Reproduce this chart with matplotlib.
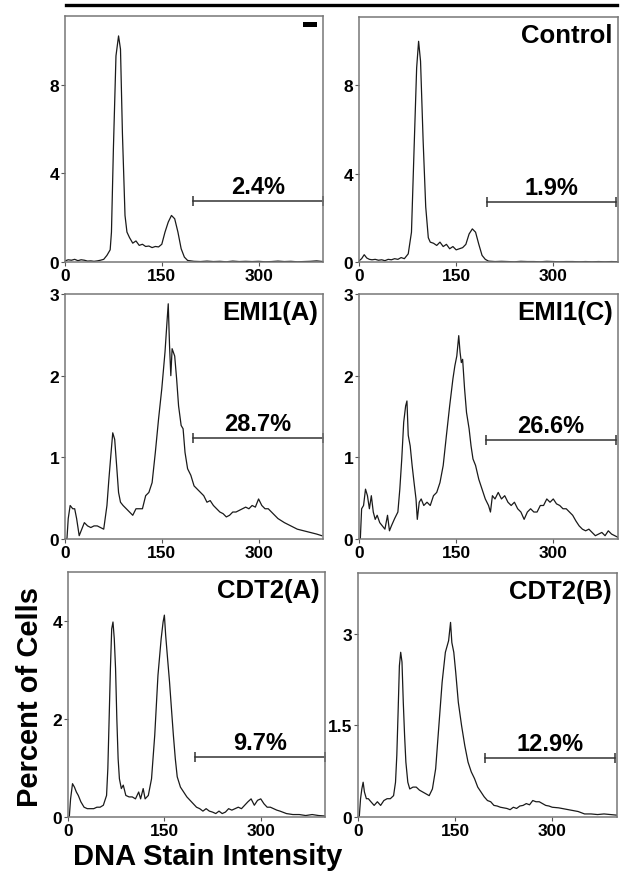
"""DNA content histograms for control, EMI1 and CDT2 knockdowns."""
import matplotlib
matplotlib.use("Agg")
import matplotlib.pyplot as plt
from matplotlib.patches import Rectangle
from matplotlib.lines import Line2D

plt.rcParams["font.family"] = ["Liberation Sans", "DejaVu Sans"]
plt.rcParams["font.weight"] = "bold"

# ---- histogram readings (x = DNA stain intensity, y = percent of cells) ----
control_left_x = [0, 5, 10, 15, 20, 25, 30, 35, 40, 45, 50, 55, 60, 65, 70, 72, 75, 79, 83, 86,
                  89, 93, 96, 100, 105, 110, 115, 120, 125, 130, 135, 140, 145, 150, 155, 160,
                  165, 170, 175, 180, 185, 190, 200, 210, 220, 230, 240, 250, 260, 270, 280,
                  290, 300, 310, 320, 330, 340, 350, 360, 370, 380, 390, 400]
control_left_y = [0.05, 0.1, 0.08, 0.12, 0.06, 0.1, 0.08, 0.04, 0.05, 0.03, 0.05, 0.08, 0.12,
                  0.3, 0.55, 1.35, 5.1, 9.3, 10.2, 9.6, 5.8, 2.1, 1.35, 1.1, 0.85, 0.95, 0.75,
                  0.8, 0.7, 0.72, 0.65, 0.7, 0.68, 0.8, 1.35, 1.8, 2.1, 1.95, 1.35, 0.6, 0.22,
                  0.07, 0.03, 0.02, 0.04, 0.02, 0.03, 0.01, 0.04, 0.02, 0.03, 0.02, 0.03, 0.01,
                  0.02, 0.04, 0.02, 0.03, 0.01, 0.02, 0.03, 0.05, 0.02]

control_right_x = [0, 4, 8, 12, 16, 20, 25, 30, 35, 40, 45, 50, 55, 60, 65, 70, 76, 81, 85, 89,
                   92, 95, 99, 103, 107, 110, 115, 120, 125, 130, 135, 140, 145, 150, 155, 160,
                   165, 170, 175, 180, 185, 190, 195, 200, 210, 220, 230, 240, 250, 260, 270,
                   280, 290, 300, 310, 320, 330, 340, 350, 360, 370, 380, 390, 400]
control_right_y = [0.05, 0.15, 0.33, 0.18, 0.12, 0.1, 0.12, 0.08, 0.1, 0.06, 0.12, 0.1, 0.15,
                   0.12, 0.2, 0.15, 0.37, 1.35, 5.1, 8.8, 10.0, 9.1, 5.5, 2.5, 1.1, 0.9, 0.85,
                   0.75, 0.9, 0.7, 0.8, 0.6, 0.7, 0.55, 0.6, 0.65, 0.8, 1.27, 1.5, 1.35, 0.8,
                   0.3, 0.12, 0.04, 0.02, 0.03, 0.02, 0.01, 0.03, 0.02, 0.02, 0.01, 0.03, 0.02,
                   0.01, 0.02, 0.02, 0.01, 0.02, 0.01, 0.02, 0.01, 0.02, 0.01]

emi1a_x = [0, 3, 5, 8, 12, 15, 18, 22, 25, 30, 35, 40, 45, 50, 55, 60, 65, 68, 71, 74, 77, 80,
           83, 86, 90, 95, 100, 105, 110, 115, 120, 125, 130, 135, 140, 145, 150, 155, 158,
           160, 162, 164, 166, 170, 173, 176, 180, 183, 186, 190, 195, 200, 205, 210, 215, 220,
           225, 230, 235, 240, 245, 250, 255, 260, 265, 270, 275, 280, 285, 290, 295, 300,
           305, 310, 315, 320, 325, 330, 340, 350, 360, 370, 380, 390, 398]
emi1a_y = [0.0, 0.0, 0.25, 0.41, 0.37, 0.37, 0.25, 0.04, 0.1, 0.2, 0.16, 0.14, 0.16, 0.16,
           0.14, 0.12, 0.41, 0.73, 1.02, 1.3, 1.22, 0.9, 0.57, 0.45, 0.41, 0.37, 0.33, 0.29,
           0.37, 0.37, 0.37, 0.53, 0.57, 0.69, 1.06, 1.47, 1.84, 2.29, 2.65, 2.88, 2.37, 2.0,
           2.33, 2.24, 1.96, 1.63, 1.39, 1.35, 1.06, 0.86, 0.78, 0.65, 0.61, 0.57, 0.53, 0.45,
           0.47, 0.41, 0.37, 0.33, 0.31, 0.27, 0.29, 0.33, 0.33, 0.35, 0.37, 0.39, 0.37, 0.41,
           0.39, 0.49, 0.41, 0.37, 0.37, 0.33, 0.29, 0.25, 0.2, 0.16, 0.12, 0.1, 0.08, 0.06,
           0.04]

emi1c_x = [0, 2, 4, 7, 10, 13, 16, 19, 22, 25, 28, 32, 36, 40, 44, 47, 50, 55, 60, 63, 66, 69,
           72, 74, 76, 79, 82, 85, 88, 90, 93, 96, 100, 105, 110, 115, 120, 125, 130, 135,
           140, 145, 148, 151, 154, 156, 158, 160, 163, 166, 170, 173, 176, 180, 185, 190,
           195, 200, 203, 206, 210, 215, 220, 225, 230, 235, 240, 245, 250, 255, 260, 265,
           270, 275, 280, 285, 290, 295, 300, 305, 310, 315, 320, 325, 330, 335, 340, 345,
           350, 355, 360, 365, 370, 375, 380, 385, 390, 395, 400]
emi1c_y = [0.0, 0.0, 0.37, 0.41, 0.61, 0.53, 0.37, 0.53, 0.33, 0.24, 0.29, 0.2, 0.16, 0.12,
           0.29, 0.1, 0.16, 0.25, 0.33, 0.61, 0.98, 1.43, 1.63, 1.69, 1.27, 1.14, 0.9, 0.69,
           0.49, 0.24, 0.45, 0.49, 0.41, 0.45, 0.41, 0.53, 0.57, 0.69, 0.9, 1.27, 1.63, 1.96,
           2.12, 2.24, 2.49, 2.29, 2.16, 2.2, 1.84, 1.55, 1.35, 1.14, 0.98, 0.9, 0.73, 0.61,
           0.49, 0.41, 0.33, 0.53, 0.49, 0.57, 0.49, 0.53, 0.45, 0.41, 0.45, 0.37, 0.33, 0.24,
           0.33, 0.37, 0.33, 0.33, 0.41, 0.41, 0.49, 0.45, 0.49, 0.43, 0.41, 0.37, 0.37, 0.33,
           0.29, 0.22, 0.16, 0.12, 0.1, 0.12, 0.08, 0.04, 0.06, 0.08, 0.04, 0.1, 0.06, 0.04,
           0.02]

cdt2a_x = [0, 2, 4, 7, 10, 13, 16, 20, 25, 30, 35, 40, 45, 50, 55, 60, 62, 64, 66, 68, 70,
           72, 74, 76, 78, 80, 83, 86, 90, 95, 100, 105, 110, 113, 117, 120, 125, 130, 135,
           140, 145, 148, 150, 152, 155, 158, 161, 164, 167, 170, 175, 180, 185, 190, 195,
           200, 205, 210, 215, 220, 225, 230, 235, 240, 245, 250, 255, 260, 265, 270, 275,
           280, 285, 290, 295, 300, 305, 310, 315, 320, 325, 330, 340, 350, 360, 370, 380,
           390, 400]
cdt2a_y = [0.0, 0.0, 0.37, 0.68, 0.61, 0.51, 0.44, 0.31, 0.2, 0.17, 0.17, 0.17, 0.2, 0.2,
           0.24, 0.44, 0.99, 2.0, 3.03, 3.84, 3.98, 3.64, 3.03, 2.0, 1.19, 0.78, 0.58, 0.65,
           0.44, 0.41, 0.41, 0.37, 0.51, 0.37, 0.58, 0.37, 0.44, 0.78, 1.67, 2.89, 3.64, 3.98,
           4.12, 3.71, 3.23, 2.76, 2.21, 1.67, 1.19, 0.82, 0.61, 0.51, 0.41, 0.34, 0.27, 0.2,
           0.17, 0.12, 0.17, 0.12, 0.1, 0.07, 0.12, 0.07, 0.1, 0.17, 0.14, 0.17, 0.2, 0.17,
           0.24, 0.31, 0.37, 0.24, 0.34, 0.37, 0.27, 0.2, 0.2, 0.17, 0.14, 0.12, 0.07, 0.05,
           0.05, 0.03, 0.05, 0.03, 0.02]

cdt2b_x = [0, 2, 4, 6, 8, 10, 13, 16, 20, 25, 30, 35, 40, 45, 50, 55, 58, 60, 62, 64, 66,
           68, 70, 72, 74, 77, 80, 85, 90, 95, 100, 105, 110, 115, 120, 125, 130, 135, 140,
           143, 145, 148, 151, 155, 160, 165, 170, 175, 180, 185, 190, 195, 200, 205, 210,
           215, 220, 225, 230, 235, 240, 245, 250, 255, 260, 265, 270, 275, 280, 285, 290,
           295, 300, 310, 320, 330, 340, 350, 360, 370, 380, 390, 400]
cdt2b_y = [0.0, 0.0, 0.3, 0.46, 0.57, 0.41, 0.3, 0.3, 0.25, 0.19, 0.25, 0.19, 0.27, 0.3,
           0.3, 0.35, 0.57, 1.01, 1.72, 2.48, 2.7, 2.54, 1.88, 1.34, 0.9, 0.57, 0.46, 0.49,
           0.49, 0.44, 0.41, 0.38, 0.35, 0.46, 0.79, 1.5, 2.21, 2.7, 2.89, 3.19, 2.86, 2.7,
           2.37, 1.88, 1.5, 1.17, 0.9, 0.74, 0.63, 0.49, 0.41, 0.33, 0.27, 0.25, 0.19, 0.18,
           0.16, 0.15, 0.14, 0.12, 0.16, 0.14, 0.18, 0.19, 0.22, 0.2, 0.27, 0.25, 0.25, 0.22,
           0.19, 0.18, 0.16, 0.15, 0.13, 0.11, 0.09, 0.05, 0.05, 0.04, 0.05, 0.04, 0.03]

panel_names = ["", "Control", "EMI1(A)", "EMI1(C)", "CDT2(A)", "CDT2(B)"]
gate_pct = ["2.4%", "1.9%", "28.7%", "26.6%", "9.7%", "12.9%"]
gate_start = [199, 198, 198, 196, 198, 196]
gate_end = [400, 397, 400, 397, 400, 397]
gate_level = [2.76, 2.71, 1.24, 1.21, 1.23, 0.97]
y_max = [11.1, 11.1, 3.0, 3.0, 5.0, 4.0]
y_ticks = [[0, 4, 8], [0, 4, 8], [0, 1, 2, 3], [0, 1, 2, 3], [0, 2, 4], [0, 1.5, 3]]
y_ticklabels = [["0", "4", "8"], ["0", "4", "8"], ["0", "1", "2", "3"], ["0", "1", "2", "3"],
                ["0", "2", "4"], ["0", "1.5", "3"]]
x_ticks = [0, 150, 300]

series = [(control_left_x, control_left_y), (control_right_x, control_right_y),
          (emi1a_x, emi1a_y), (emi1c_x, emi1c_y), (cdt2a_x, cdt2a_y), (cdt2b_x, cdt2b_y)]

# axes rectangles in figure fractions (left, bottom, width, height)
boxes = [
    (0.1035, 0.7008, 0.4110, 0.2799),
    (0.5717, 0.7008, 0.4124, 0.2787),
    (0.1035, 0.3857, 0.4110, 0.2787),
    (0.5717, 0.3857, 0.4124, 0.2787),
    (0.1083, 0.0694, 0.4092, 0.2787),
    (0.5700, 0.0694, 0.4124, 0.2776),
]

fig = plt.figure(figsize=(6.28, 8.79), dpi=100)

for i, (xs, ys) in enumerate(series):
    ax = fig.add_axes(boxes[i])
    ax.plot(xs, ys, color="#1a1a1a", linewidth=0.9)
    ax.set_xlim(0, 400)
    ax.set_ylim(0, y_max[i])
    ax.set_xticks(x_ticks)
    ax.set_xticklabels([str(t) for t in x_ticks])
    ax.set_yticks(y_ticks[i])
    ax.set_yticklabels(y_ticklabels[i])
    ax.tick_params(direction="out", length=3, width=0.8, color="#555555",
                   labelsize=12.5, pad=1)
    for lab in ax.get_xticklabels() + ax.get_yticklabels():
        lab.set_fontweight("bold")
    for sp in ax.spines.values():
        sp.set_color("#777777")
        sp.set_linewidth(1.1)

    # gate marker with end caps and its percentage
    ax.plot([gate_start[i], gate_end[i]], [gate_level[i], gate_level[i]],
            color="#333333", linewidth=1.1, marker="|", markersize=7,
            markeredgewidth=1.1, clip_on=False)
    ax.annotate(gate_pct[i], ((gate_start[i] + gate_end[i]) / 2, gate_level[i]),
                xytext=(0, 2), textcoords="offset points", ha="center", va="bottom",
                fontsize=17, fontweight="bold")

    if panel_names[i]:
        ax.text(0.98, 0.975, panel_names[i], transform=ax.transAxes, ha="right",
                va="top", fontsize=18.5, fontweight="bold")

    if i == 0:
        ax.add_patch(Rectangle((0.922, 0.955), 0.055, 0.021, transform=ax.transAxes,
                               facecolor="black", edgecolor="none"))

# rule across the top of the figure
fig.add_artist(Line2D([66 / 628, 617 / 628], [1 - 6 / 879, 1 - 6 / 879],
                      color="black", linewidth=2.4, transform=fig.transFigure))

fig.text(30 / 628, 1 - 697 / 879, "Percent of Cells", rotation=90, ha="center",
         va="center", fontsize=21, fontweight="bold")
fig.text(208 / 628, 1 - 857 / 879, "DNA Stain Intensity", ha="center", va="center",
         fontsize=21, fontweight="bold")

fig.savefig("out.png", dpi=100)
plt.close(fig)
